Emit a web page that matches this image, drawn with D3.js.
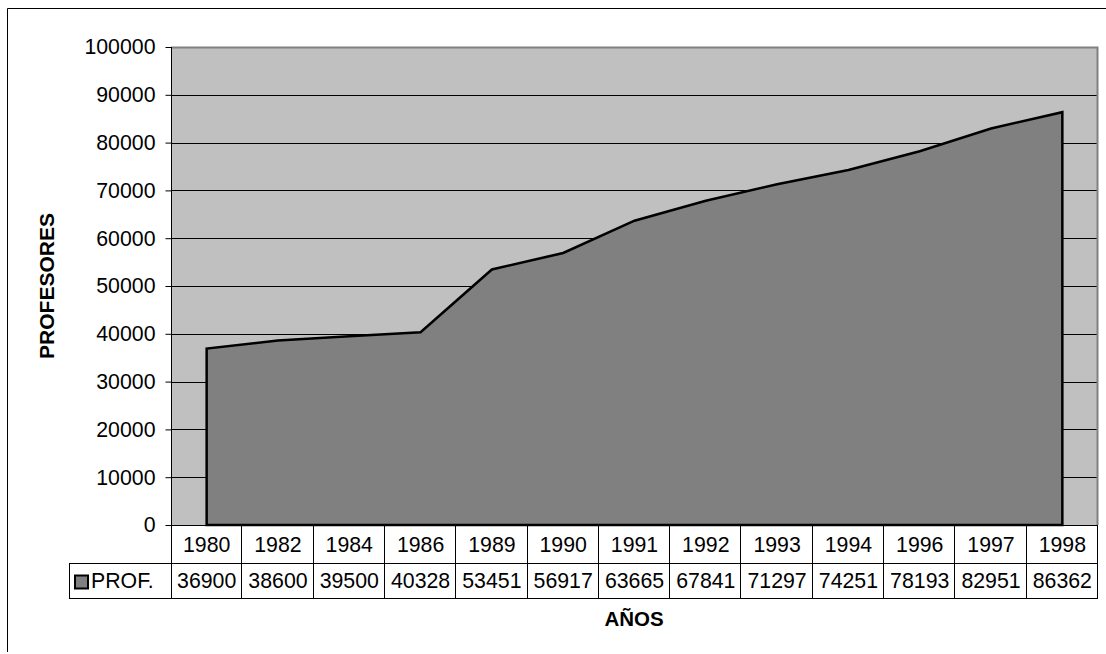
<!DOCTYPE html>
<html><head><meta charset="utf-8">
<script src="https://cdn.jsdelivr.net/npm/d3@7"></script>
<style>
html,body{margin:0;padding:0;background:#fff;}
text{font-family:"Liberation Sans",Arial,sans-serif;}
</style></head>
<body>
<svg id="c" width="1106" height="654"></svg>
<script>
const years = ["1980","1982","1984","1986","1989","1990","1991","1992","1993","1994","1996","1997","1998"];
const profValues = [36900,38600,39500,40328,53451,56917,63665,67841,71297,74251,78193,82951,86362];
const seriesName = "PROF.";
const yTicks = [0,10000,20000,30000,40000,50000,60000,70000,80000,90000,100000];
const yTitle = "PROFESORES";
const xTitle = "AÑOS";

const svg = d3.select("#c");
const fs = 21.3;
const L = 171, R = 1098, T = 47, B = 525;
const row1 = 563, row2 = 598, legendLeft = 69;

// outer frame
svg.append("path").attr("d", `M7.5,652 V8.5 H1106`).attr("fill","none").attr("stroke","#000").attr("stroke-width",1);

const x = d3.scaleBand().domain(years).range([L, R]).padding(0);
const y = d3.scaleLinear().domain([0,100000]).range([B, T]);

// plot background
svg.append("rect").attr("x",L).attr("y",T).attr("width",R-L).attr("height",B-T).attr("fill","#c0c0c0");

// gridlines
svg.append("g").selectAll("line").data(yTicks.filter(d=>d>0)).join("line")
  .attr("x1",L).attr("x2",R).attr("y1",d=>Math.round(y(d))+0.5).attr("y2",d=>Math.round(y(d))+0.5)
  .attr("stroke","#000").attr("stroke-width",1);

// plot border (top/right gray)
svg.append("path").attr("d",`M${L},${T+0.5} H${R-0.5} V${B}`).attr("fill","none").attr("stroke","#808080").attr("stroke-width",2);

// area
const cx = d => x(d) + x.bandwidth()/2;
const pts = years.map((yr,i)=>[cx(yr), y(profValues[i])]);
const areaPath = d3.line()([[cx(years[0]), y(0)], ...pts, [cx(years[years.length-1]), y(0)]]);
svg.append("path").attr("d", areaPath + "Z").attr("fill","#808080").attr("stroke","#000").attr("stroke-width",2.5).attr("stroke-linejoin","miter");

// y axis
const yAxis = d3.axisLeft(y).tickValues(yTicks).tickSize(6).tickPadding(10).tickFormat(d3.format("d"));
const ga = svg.append("g").attr("transform",`translate(${L+0.5},0)`).call(yAxis);
ga.select(".domain").attr("stroke","#000").attr("d",`M0,${T}V${row2}`);
ga.selectAll(".tick line").attr("stroke","#000");
ga.selectAll(".tick text").attr("font-size",fs).attr("fill","#000").attr("font-family","Liberation Sans, Arial, sans-serif");

// table
const tbl = svg.append("g").attr("stroke","#000").attr("stroke-width",1);
tbl.append("line").attr("x1",L).attr("x2",R).attr("y1",B+0.5).attr("y2",B+0.5);
tbl.append("line").attr("x1",legendLeft).attr("x2",R).attr("y1",row1+0.5).attr("y2",row1+0.5);
tbl.append("line").attr("x1",legendLeft).attr("x2",R).attr("y1",row2+0.5).attr("y2",row2+0.5);
tbl.append("line").attr("x1",legendLeft+0.5).attr("x2",legendLeft+0.5).attr("y1",row1).attr("y2",row2+1);
tbl.selectAll("line.v").data(years).join("line").attr("class","v")
  .attr("x1",d=>Math.round(x(d)+x.bandwidth())-0.5).attr("x2",d=>Math.round(x(d)+x.bandwidth())-0.5)
  .attr("y1",B).attr("y2",row2+1);

svg.append("g").selectAll("text").data(years).join("text")
  .attr("x",d=>cx(d)).attr("y",(B+row1)/2).attr("dy","0.36em").attr("text-anchor","middle")
  .attr("font-size",fs).text(d=>d);
svg.append("g").selectAll("text").data(profValues).join("text")
  .attr("x",(d,i)=>cx(years[i])).attr("y",(row1+row2)/2).attr("dy","0.36em").attr("text-anchor","middle")
  .attr("font-size",fs).text(d=>d);

// legend key
svg.append("rect").attr("x",75).attr("y",575.5).attr("width",13).attr("height",13)
  .attr("fill","#808080").attr("stroke","#000").attr("stroke-width",2);
svg.append("text").attr("x",91).attr("y",(row1+row2)/2).attr("dy","0.36em").attr("font-size",fs).text(seriesName);

// titles
svg.append("text").attr("transform",`translate(46,286) rotate(-90)`).attr("text-anchor","middle").attr("dy","0.36em")
  .attr("font-size",21).attr("font-weight","bold").text(yTitle);
svg.append("text").attr("x",634).attr("y",619).attr("dy","0.36em").attr("text-anchor","middle")
  .attr("font-size",20.5).attr("font-weight","bold").text(xTitle);
</script>
</body></html>
